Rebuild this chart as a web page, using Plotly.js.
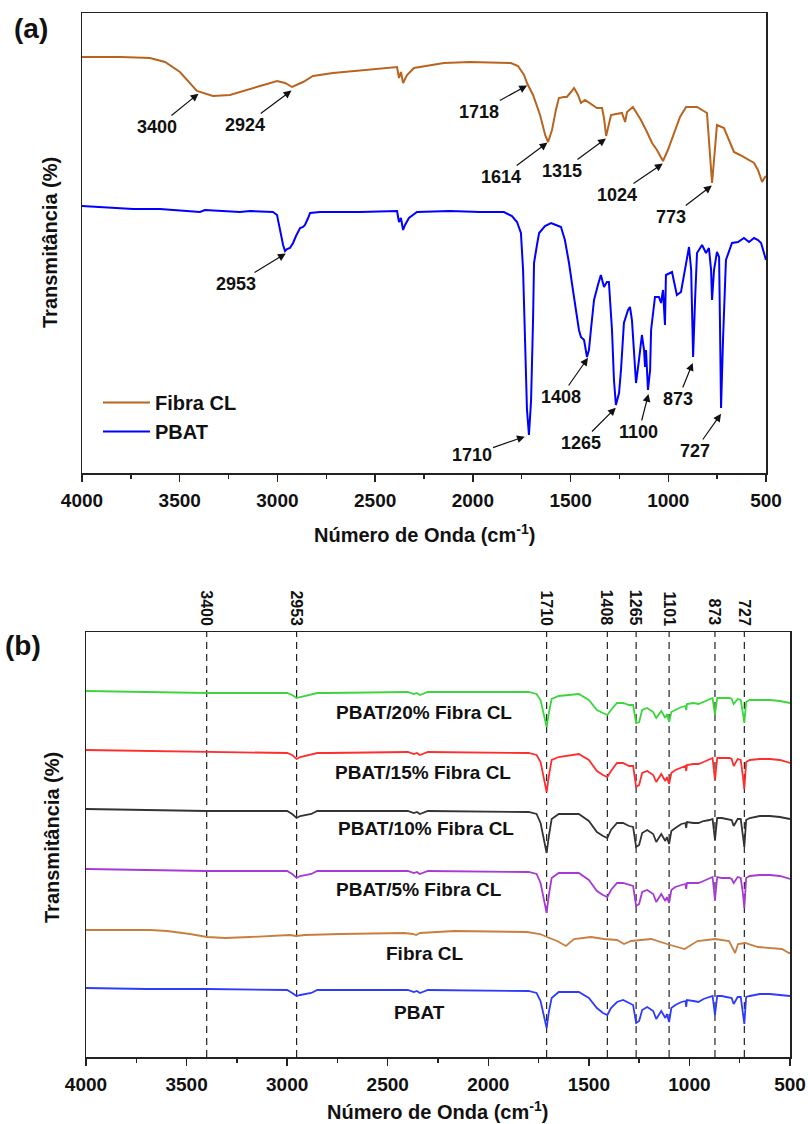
<!DOCTYPE html>
<html>
<head>
<meta charset="utf-8">
<script src="https://cdn.plot.ly/plotly-3.0.1.min.js"></script>
<style>html,body{margin:0;padding:0;background:#fff;}#chart{width:808px;height:1124px;}</style>
</head>
<body>
<div id="chart"></div>
<script>
// ---------- Panel (a) data (wavenumber cm-1, transmittance arbitrary units) ----------
var fibraA_wn = [4000,3800,3652,3575,3499,3412,3330,3243,3089,3002,2961,2925,2869,2818,2716,2388,2378,2368,2357,2337,2301,2148,2015,1805,1769,1738,1723,1692,1656,1630,1615,1595,1575,1560,1534,1519,1498,1482,1462,1447,1426,1401,1365,1339,1329,1318,1308,1293,1267,1237,1221,1211,1181,1160,1140,1109,1083,1058,1027,1002,971,940,909,878,853,802,792,776,766,751,715,689,664,633,592,561,541,520,505,500];
var fibraA_T  = [416,416,415,411,401,382,377,378,387,392,390,386,391,397,400,406,395,401,390,398,405,410,411,410,407,398,390,378,358,338,331,343,363,375,376,376,381,385,378,370,373,370,365,365,355,337,345,358,359,360,351,361,366,360,353,341,330,323,312,323,340,356,366,366,366,360,333,290,313,348,345,333,321,318,313,310,303,291,296,297];

var pbatA_wn = [4000,3857,3739,3601,3396,3371,3192,3140,3023,3002,2987,2971,2961,2951,2936,2920,2905,2884,2869,2859,2843,2833,2782,2577,2388,2378,2368,2357,2347,2327,2286,2117,1963,1841,1800,1774,1754,1743,1733,1723,1713,1702,1692,1687,1672,1661,1631,1600,1575,1549,1529,1508,1488,1472,1457,1447,1431,1416,1406,1396,1380,1360,1345,1329,1314,1304,1288,1278,1268,1252,1242,1227,1206,1196,1186,1176,1165,1150,1135,1124,1119,1114,1104,1093,1088,1068,1048,1037,1027,1017,1012,981,956,935,914,894,883,873,863,853,827,807,792,781,776,766,751,740,735,730,720,705,674,643,613,587,561,541,525,510,500];
var pbatA_T  = [267,265,264,264,261,263,261,262,261,258,243,228,222,224,225,230,237,245,246,248,255,260,261,261,262,251,255,243,248,255,261,262,261,261,257,251,240,203,133,63,38,73,153,210,228,240,247,250,248,246,233,210,183,160,143,136,133,116,123,143,173,188,198,186,191,191,143,93,68,80,103,150,163,166,153,123,90,113,138,123,106,123,83,103,143,176,176,170,183,148,198,201,178,181,203,226,203,116,173,220,228,220,225,203,173,203,221,216,143,65,133,213,230,231,235,231,235,233,230,221,213];

// ---------- Panel (b) data ----------
var wnB = [4000,3700,3400,3100,3000,2975,2953,2935,2915,2880,2850,2800,2400,2370,2355,2340,2300,1800,1760,1740,1725,1710,1698,1685,1650,1550,1500,1460,1430,1408,1390,1360,1330,1300,1280,1265,1250,1235,1210,1180,1165,1140,1120,1112,1101,1090,1070,1040,1020,1016,1012,980,955,930,900,885,873,862,840,800,790,780,760,745,735,727,718,700,650,600,550,500];
var pbat20_T = [366,365,364,364,364,362,359,360,361,362,364,364,365,363,364,362,365,365,363,357,345,330,345,358,361,363,357,347,344,342,347,354,354,352,352,334,335,347,349,345,339,346,339,343,335,345,347,350,351,347,353,354,353,355,358,359,342,359,359,359,358,353,358,357,345,334,355,357,357,357,356,354];
var pbat15_T = [307,306,305,304,304,302,298,300,301,302,304,304,305,303,304,302,305,304,302,295,281,265,282,297,300,303,297,286,282,280,286,294,294,291,291,270,272,284,286,282,275,283,276,280,273,284,287,289,291,286,292,293,293,295,298,299,277,299,299,299,298,291,298,297,282,268,295,297,298,298,297,294];
var pbat10_T = [248,247,246,246,246,243,239,241,242,243,246,246,246,244,245,243,246,245,243,234,219,204,222,238,243,243,236,225,221,219,227,234,234,231,230,210,212,224,227,223,215,223,216,220,213,226,229,233,234,229,235,234,234,236,237,238,217,239,239,238,237,231,238,238,224,210,237,239,241,241,240,238];
var pbat5_T  = [188,187,186,186,186,183,179,181,182,183,186,186,186,184,185,183,186,185,183,174,159,144,163,179,184,184,177,166,162,160,167,174,174,172,171,151,153,165,167,163,155,163,156,160,154,167,170,172,173,168,174,174,174,176,179,180,157,180,179,179,178,174,180,179,165,149,179,181,182,182,181,178];
var pbat0_T  = [69,68,68,67,67,64,61,62,63,64,67,67,67,65,66,64,67,66,64,56,43,29,46,59,65,65,59,49,44,42,49,55,57,54,52,34,36,47,50,46,38,46,39,43,35,49,52,55,56,50,57,56,55,58,60,61,42,61,61,60,59,53,60,60,47,33,60,61,63,63,62,61];

var fibraB_wn = [4000,3682,3597,3483,3398,3309,3185,2986,2956,2911,2737,2538,2419,2374,2359,2339,2170,1808,1743,1708,1658,1614,1574,1489,1425,1360,1325,1290,1191,1112,1024,960,872,803,773,758,723,659,540,505,500];
var fibraB_T  = [127,127,126,123,120,119,120,122,121,122,123,124,124,123,122,124,126,125,123,120,116,111,118,120,118,117,113,116,118,113,108,116,118,116,104,113,114,110,108,104,104];

// peak labels
var peaksA_top = [
  {wn:3400, T:380, label:'3400', ax:-42, ay:34},
  {wn:2924, T:383, label:'2924', ax:-47, ay:35},
  {wn:1718, T:388, label:'1718', ax:-49, ay:27},
  {wn:1614, T:331, label:'1614', ax:-47, ay:35},
  {wn:1315, T:335, label:'1315', ax:-45, ay:33},
  {wn:1024, T:310, label:'1024', ax:-47, ay:32},
  {wn:773,  T:288, label:'773',  ax:-42, ay:32}
];
var peaksA_bot = [
  {wn:2953, T:220, label:'2953', ax:-51, ay:31},
  {wn:1710, T:38,  label:'1710', ax:-58, ay:20},
  {wn:1408, T:116, label:'1408', ax:-28, ay:40},
  {wn:1265, T:66,  label:'1265', ax:-36, ay:36},
  {wn:1100, T:80,  label:'1100', ax:-10, ay:39},
  {wn:873,  T:111, label:'873',  ax:-15, ay:37},
  {wn:727,  T:60,  label:'727',  ax:-27, ay:38}
];
var peaksB = [3400, 2953, 1710, 1408, 1265, 1101, 873, 727];
var peaksB_labels = ['3400','2953','1710','1408','1265','1101','873','727'];
var sampleLabels = ['PBAT/20% Fibra CL','PBAT/15% Fibra CL','PBAT/10% Fibra CL','PBAT/5% Fibra CL','Fibra CL','PBAT'];
var xTicks = [4000,3500,3000,2500,2000,1500,1000,500];

var FONT = 'Liberation Sans, Arial, Helvetica, sans-serif';
var AX = '#222';

var traces = [
  {x:fibraA_wn, y:fibraA_T, xaxis:'x', yaxis:'y', mode:'lines', name:'Fibra CL', line:{color:'#B8641F', width:2}},
  {x:pbatA_wn, y:pbatA_T, xaxis:'x', yaxis:'y', mode:'lines', name:'PBAT', line:{color:'#0000FF', width:2}},
  {x:wnB, y:pbat20_T, xaxis:'x2', yaxis:'y2', mode:'lines', name:sampleLabels[0], showlegend:false, line:{color:'#3CD63C', width:1.8}},
  {x:wnB, y:pbat15_T, xaxis:'x2', yaxis:'y2', mode:'lines', name:sampleLabels[1], showlegend:false, line:{color:'#FF2E2E', width:1.8}},
  {x:wnB, y:pbat10_T, xaxis:'x2', yaxis:'y2', mode:'lines', name:sampleLabels[2], showlegend:false, line:{color:'#333333', width:1.8}},
  {x:wnB, y:pbat5_T, xaxis:'x2', yaxis:'y2', mode:'lines', name:sampleLabels[3], showlegend:false, line:{color:'#A63AD4', width:1.8}},
  {x:fibraB_wn, y:fibraB_T, xaxis:'x2', yaxis:'y2', mode:'lines', name:sampleLabels[4], showlegend:false, line:{color:'#C97E3E', width:1.8}},
  {x:wnB, y:pbat0_T, xaxis:'x2', yaxis:'y2', mode:'lines', name:sampleLabels[5], showlegend:false, line:{color:'#2E3BFF', width:1.8}}
];

function xAxis(domain, anchor){
  return {domain:domain, anchor:anchor, range:[4000,500], tickmode:'array', tickvals:xTicks,
    ticktext:xTicks.map(String), ticks:'outside', ticklen:7, tickwidth:1.5, tickcolor:AX,
    showline:true, linecolor:AX, linewidth:1.5, mirror:true, showgrid:false, zeroline:false,
    ticklabelstandoff:3,
    tickfont:{family:FONT, size:19, color:'#111', weight:'bold'},
    minor:{tickmode:'linear', tick0:250, dtick:250, ticks:'outside', ticklen:4, tickwidth:1.5, tickcolor:AX, showgrid:false}};
}
function yAxis(domain, anchor, range){
  return {domain:domain, anchor:anchor, range:range, showline:true, linecolor:AX, linewidth:1.5,
    mirror:true, ticks:'', showticklabels:false, showgrid:false, zeroline:false};
}

var annotations = [];
function bold(t, size){ return {family:FONT, size:size, color:'#111', weight:'bold'}; }
peaksA_top.concat(peaksA_bot).forEach(function(p){
  annotations.push({xref:'x', yref:'y', x:p.wn, y:p.T, text:p.label, showarrow:true,
    ax:p.ax, ay:p.ay, arrowhead:2, arrowsize:1.3, arrowwidth:1.2, arrowcolor:'#111',
    standoff:(p.label==='1710'?5:1), font:bold('', 18)});
});
peaksB.forEach(function(w,i){
  annotations.push({xref:'x2', yref:'y2 domain', x:w, y:1, yanchor:'bottom', xanchor:'center',
    yshift:4, text:peaksB_labels[i], textangle:90, showarrow:false, font:bold('',16)});
});
var sampleLabelPos = [[424,712],[423,772],[426,828],[419,889],[424,953],[419,1012]];
sampleLabels.forEach(function(s,i){
  annotations.push({xref:'paper', yref:'paper', x:sampleLabelPos[i][0]/808, y:1-sampleLabelPos[i][1]/1124,
    xanchor:'center', yanchor:'middle', text:s, showarrow:false, font:bold('',19)});
});
// axis titles and panel letters
annotations.push({xref:'paper', yref:'paper', x:424/808, y:1-533/1124, xanchor:'center', yanchor:'middle',
  text:'Número de Onda (cm<sup>-1</sup>)', showarrow:false, font:bold('',20)});
annotations.push({xref:'paper', yref:'paper', x:437/808, y:1-1110/1124, xanchor:'center', yanchor:'middle',
  text:'Número de Onda (cm<sup>-1</sup>)', showarrow:false, font:bold('',20)});
annotations.push({xref:'paper', yref:'paper', x:50/808, y:1-243/1124, xanchor:'center', yanchor:'middle',
  text:'Transmitância (%)', textangle:-90, showarrow:false, font:bold('',20)});
annotations.push({xref:'paper', yref:'paper', x:52/808, y:1-838/1124, xanchor:'center', yanchor:'middle',
  text:'Transmitância (%)', textangle:-90, showarrow:false, font:bold('',20)});
annotations.push({xref:'paper', yref:'paper', x:31/808, y:1-28/1124, xanchor:'center', yanchor:'middle',
  text:'(a)', showarrow:false, font:bold('',28)});
annotations.push({xref:'paper', yref:'paper', x:23/808, y:1-645/1124, xanchor:'center', yanchor:'middle',
  text:'(b)', showarrow:false, font:bold('',28)});

var shapes = peaksB.map(function(w){
  return {type:'line', xref:'x2', yref:'y2 domain', x0:w, x1:w, y0:0, y1:1,
    line:{color:'#222', width:1.2, dash:'7px,5px'}, layer:'below'};
});

var layout = {
  width:808, height:1124, margin:{l:0,r:0,t:0,b:0}, paper_bgcolor:'#fff', plot_bgcolor:'#fff',
  font:{family:FONT, color:'#111'},
  xaxis:xAxis([82/808, 766/808], 'y'),
  yaxis:yAxis([1-473/1124, 1-13/1124], 'x', [0,460]),
  xaxis2:xAxis([86/808, 790/808], 'y2'),
  yaxis2:yAxis([1-1057/1124, 1-632/1124], 'x2', [0,425]),
  showlegend:true,
  legend:{x:98/808, y:1-383/1124, xanchor:'left', yanchor:'top', bgcolor:'rgba(0,0,0,0)',
    font:{family:FONT, size:20, color:'#111', weight:'bold'}, itemwidth:47, tracegroupgap:0},
  annotations:annotations, shapes:shapes
};
Plotly.newPlot('chart', traces, layout, {staticPlot:true, displayModeBar:false});
</script>
</body>
</html>
